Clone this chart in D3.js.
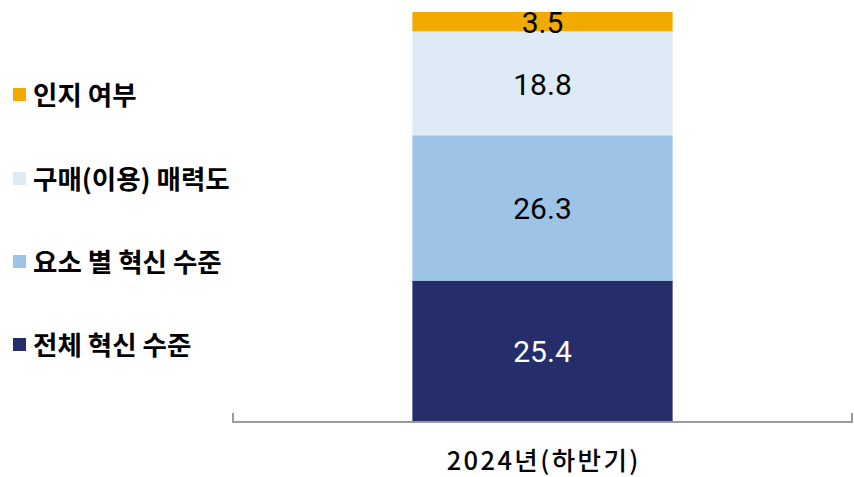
<!DOCTYPE html>
<html>
<head>
<meta charset="utf-8">
<script src="https://cdn.jsdelivr.net/npm/d3@7"></script>
<style>
  html, body { margin: 0; padding: 0; background: #ffffff; }
  svg { display: block; }
</style>
</head>
<body>
<svg id="chart" width="854" height="477"></svg>
<script>
// ---- data ----
const categories = ["2024년(하반기)"];
const seriesNames = ["전체 혁신 수준", "요소 별 혁신 수준", "구매(이용) 매력도", "인지 여부"];
const seriesValues = [
  [25.4],  // 전체 혁신 수준
  [26.3],  // 요소 별 혁신 수준
  [18.8],  // 구매(이용) 매력도
  [3.5]    // 인지 여부
];
const seriesColors = ["#252d6a", "#9dc3e7", "#deeaf6", "#f2aa00"];
const labelColors = ["#ffffff", "#000000", "#000000", "#000000"];
const legendOrder = ["인지 여부", "구매(이용) 매력도", "요소 별 혁신 수준", "전체 혁신 수준"];

// ---- build table ----
const rows = categories.map((c, i) => {
  const r = { category: c };
  seriesNames.forEach((s, j) => { r[s] = seriesValues[j][i]; });
  return r;
});
const stack = d3.stack().keys(seriesNames)(rows);
const total = d3.max(stack[stack.length - 1], d => d[1]);

const svg = d3.select("#chart");

const x = d3.scaleBand().domain(categories).range([233, 852]).paddingInner(0.408).paddingOuter(0.408);
const y = d3.scaleLinear().domain([0, total]).range([421, 12]);

// bars
const layer = svg.append("g").selectAll("g")
  .data(stack).join("g")
  .attr("fill", (d, i) => seriesColors[i]);

layer.selectAll("rect")
  .data(d => d.map(p => ({ p, key: d.key })))
  .join("rect")
  .attr("x", d => x(d.p.data.category))
  .attr("width", x.bandwidth())
  .attr("y", d => y(d.p[1]))
  .attr("height", d => y(d.p[0]) - y(d.p[1]));

// axis
const axisG = svg.append("g").attr("transform", "translate(0,422)");
axisG.append("line")
  .attr("x1", x.range()[0]).attr("x2", x.range()[1])
  .attr("y1", 0).attr("y2", 0)
  .attr("stroke", "#9a9a9a").attr("stroke-width", 2);
x.range().forEach(px => {
  axisG.append("line")
    .attr("x1", px).attr("x2", px).attr("y1", 1).attr("y2", -9)
    .attr("stroke", "#9a9a9a").attr("stroke-width", 2);
});
svg.append("g").selectAll("text")
  .data(categories).join("text")
  .attr("x", d => x(d) + x.bandwidth() / 2 + 1.2)
  .attr("y", 469.5)
  .attr("text-anchor", "middle")
  .attr("font-family", "'Noto Sans CJK KR', sans-serif")
  .attr("font-weight", 500)
  .attr("font-size", 25.5)
  .attr("letter-spacing", 2.4)
  .attr("fill", "#000")
  .text(d => d);

// value labels
stack.forEach((s, i) => {
  svg.append("g").selectAll("text")
    .data(s).join("text")
    .attr("x", d => x(d.data.category) + x.bandwidth() / 2)
    .attr("y", d => (y(d[0]) + y(d[1])) / 2 + 1)
    .attr("text-anchor", "middle")
    .attr("dominant-baseline", "central")
    .attr("font-family", "Roboto, sans-serif")
    .attr("font-size", 30)
    .attr("fill", labelColors[i])
    .text(d => d3.format(".1f")(d[1] - d[0]));
});

// legend
const legend = svg.append("g");
const legendY = [93, 177, 260, 343];
legendOrder.forEach((name, i) => {
  const idx = seriesNames.indexOf(name);
  const g = legend.append("g").attr("transform", `translate(13,${legendY[i]})`);
  g.append("rect").attr("x", 0).attr("y", -5).attr("width", 13).attr("height", 13)
    .attr("fill", seriesColors[idx]);
  g.append("text").attr("x", 20).attr("y", 0)
    .attr("dominant-baseline", "central")
    .attr("font-family", "'Noto Sans CJK KR', sans-serif")
    .attr("font-weight", 700)
    .attr("font-size", 26.5)
    .attr("fill", "#000")
    .text(name);
});
</script>
</body>
</html>
